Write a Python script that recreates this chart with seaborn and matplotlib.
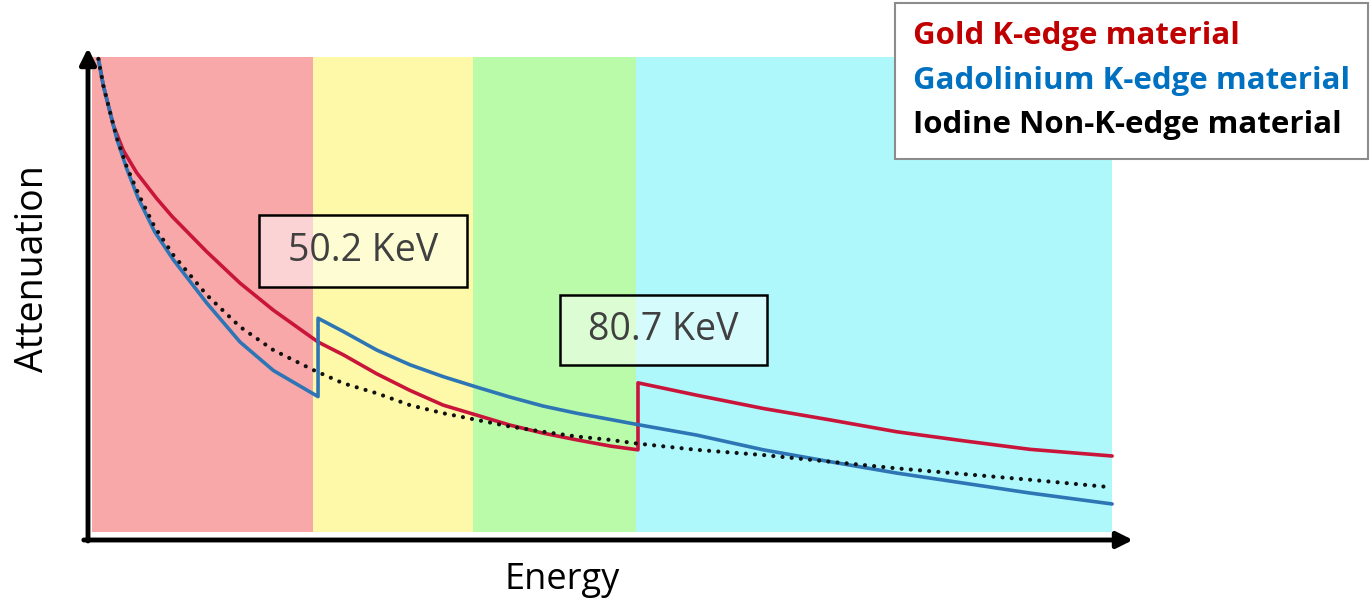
import matplotlib
matplotlib.use('Agg')
import matplotlib.pyplot as plt
from matplotlib.patches import Rectangle
import seaborn as sns

# Energía (keV, escala aproximada) y atenuación (unidades arbitrarias 0-100)
energia_oro = [29.26, 29.73, 30.37, 30.69, 31.64, 32.92, 34.82, 36.3, 39.59, 42.76, 45.94, 50.2,
               52.61, 55.8, 58.97, 62.14, 65.33, 68.5, 71.68, 74.86, 78.04, 80.7,
               80.7, 86.3, 92.65, 99.01, 105.37, 111.72, 118.07, 125.9]
aten_oro = [99.6, 94.0, 88.4, 85.6, 80.3, 75.6, 70.2, 66.4, 59.0, 52.4, 46.7, 40.0,
            37.3, 33.3, 29.8, 26.7, 24.6, 22.5, 20.8, 19.4, 18.1, 17.3,
            31.4, 28.8, 26.0, 23.6, 21.1, 19.2, 17.4, 16.0]

energia_gd = [29.26, 29.73, 30.37, 31.01, 31.96, 33.07, 34.63, 36.41, 39.59, 42.76, 45.94, 50.2,
              50.2, 52.61, 55.8, 58.97, 62.14, 65.33, 68.5, 71.68, 74.86, 78.04, 80.7,
              86.3, 92.65, 99.01, 105.37, 111.72, 118.07, 125.9]
aten_gd = [99.6, 94.0, 88.4, 82.8, 76.5, 70.2, 63.2, 57.3, 48.2, 40.0, 34.0, 28.5,
           45.0, 42.2, 38.3, 35.2, 32.7, 30.5, 28.4, 26.5, 25.0, 23.7, 22.6,
           20.4, 17.3, 14.8, 12.4, 10.3, 8.2, 5.9]

energia_yodo = [29.26, 29.73, 30.37, 31.01, 31.96, 33.2, 34.63, 36.41, 39.59, 42.76, 45.94, 49.75,
                52.61, 55.8, 58.97, 62.14, 65.33, 68.5, 71.68, 74.86, 78.04, 80.7,
                86.3, 92.65, 99.01, 105.37, 111.72, 118.07, 125.9]
aten_yodo = [99.6, 94.0, 88.4, 83.0, 76.9, 70.6, 64.2, 58.3, 49.9, 43.2, 38.3, 34.1,
             31.3, 29.2, 26.7, 25.0, 23.6, 22.2, 21.1, 20.1, 19.4, 18.6,
             17.3, 16.2, 14.8, 13.4, 12.2, 11.0, 9.4]

# Bandas de energía (bordes) y sus colores
bordes_bandas = [28.66, 49.72, 64.98, 80.51, 125.89]
colores_bandas = ['#f8a8a9', '#fdf9a8', '#bafbaa', '#aef7fb']

etiquetas = ['Gold K-edge material', 'Gadolinium K-edge material', 'Iodine Non-K-edge material']
colores_texto = ['#c00000', '#0070c0', '#000000']

sns.set_theme(style='white')
plt.rcParams['font.family'] = ['Open Sans', 'DejaVu Sans']

fig = plt.figure(figsize=(13.7, 6.04), dpi=100)
ax = fig.add_axes([88 / 1370, 64 / 604, 1045 / 1370, 492 / 604])
ax.set_xlim(28.27, 127.89)
ax.set_ylim(-1.684, 101.89)

# Fondos de color por banda
for i, color in enumerate(colores_bandas):
    ax.fill_between([bordes_bandas[i], bordes_bandas[i + 1]], 0, 100,
                    color=color, lw=0, zorder=0)

sns.lineplot(x=energia_oro, y=aten_oro, estimator=None, sort=False,
             color='#c9153a', lw=2.6, ax=ax, zorder=3)
sns.lineplot(x=energia_gd, y=aten_gd, estimator=None, sort=False,
             color='#2e75b6', lw=2.6, ax=ax, zorder=3)
sns.lineplot(x=energia_yodo, y=aten_yodo, estimator=None, sort=False,
             color='#111111', lw=3.0, ax=ax, zorder=4,
             linestyle=(0, (0.01, 2.2)), dash_capstyle='round')

# Cajas de los bordes K
for x0, x1, y0, y1, txt in [(44.58, 64.4, 51.6, 66.7, '50.2 KeV'),
                            (73.27, 93.0, 35.2, 49.9, '80.7 KeV')]:
    ax.add_patch(Rectangle((x0, y0), x1 - x0, y1 - y0, facecolor='white', alpha=0.5,
                           edgecolor='none', zorder=5))
    ax.add_patch(Rectangle((x0, y0), x1 - x0, y1 - y0, facecolor='none',
                           edgecolor='black', lw=1.8, zorder=6))
    ax.text((x0 + x1) / 2, (y0 + y1) / 2, txt, ha='center', va='center',
            fontsize=27, color='#404040', zorder=7)

# Ejes con flechas
for s in ax.spines.values():
    s.set_visible(False)
ax.set_xticks([])
ax.set_yticks([])
flecha = dict(arrowstyle='-|>', color='black', lw=3.5, mutation_scale=24, shrinkA=0, shrinkB=0)
ax.annotate('', xy=(1, 0), xytext=(-0.004, 0), xycoords='axes fraction', arrowprops=flecha)
ax.annotate('', xy=(0, 1), xytext=(0, -0.002), xycoords='axes fraction', arrowprops=flecha)

ax.set_xlabel('Energy', fontsize=26, color='black', va='center')
ax.xaxis.set_label_coords(0.4536, -0.0813)
ax.set_ylabel('Attenuation', fontsize=27, color='black', va='center')
ax.yaxis.set_label_coords(-0.0526, 0.551)

# Leyenda sólo con texto coloreado
leg = ax.legend(etiquetas, loc='upper right', bbox_to_anchor=(1368 / 1370, 1 - 3 / 604),
                bbox_transform=fig.transFigure, handlelength=0, handletextpad=0,
                frameon=True, fancybox=False, framealpha=1, edgecolor='#8c8c8c',
                prop=dict(family='Open Sans', weight='bold', size=22.5),
                labelspacing=0.47, borderpad=0.58, borderaxespad=0)
leg.get_frame().set_linewidth(1.5)
for t, h, c in zip(leg.get_texts(), leg.legend_handles, colores_texto):
    t.set_color(c)
    h.set_visible(False)

fig.savefig('out.png', dpi=100)
plt.close()
